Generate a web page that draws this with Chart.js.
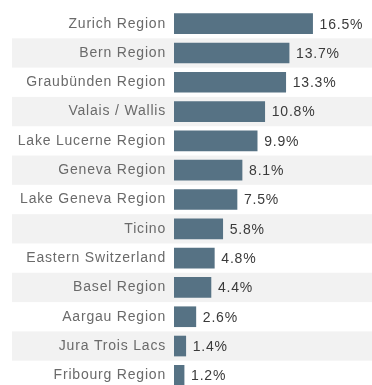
<!DOCTYPE html>
<html>
<head>
<meta charset="utf-8">
<script src="https://cdn.jsdelivr.net/npm/chart.js@4/dist/chart.umd.min.js"></script>
<style>
  html, body { margin: 0; padding: 0; background: #fff; overflow: hidden; }
  .wrap { position: absolute; left: 0; top: 0; width: 372px; height: 390px; }
</style>
</head>
<body>
<div class="wrap"><canvas id="chart"></canvas></div>
<script>
const regions = [
  "Zurich Region",
  "Bern Region",
  "Graubünden Region",
  "Valais / Wallis",
  "Lake Lucerne Region",
  "Geneva Region",
  "Lake Geneva Region",
  "Ticino",
  "Eastern Switzerland",
  "Basel Region",
  "Aargau Region",
  "Jura Trois Lacs",
  "Fribourg Region",
];
const shares = [16.5, 13.7, 13.3, 10.8, 9.9, 8.1, 7.5, 5.8, 4.8, 4.4, 2.6, 1.4, 1.2];

const fontFamily = "'Liberation Sans', Arial, Helvetica, sans-serif";

// grey band behind every second row
const stripes = {
  id: "stripes",
  beforeDraw(chart) {
    const ctx = chart.ctx;
    ctx.letterSpacing = "0.8px";
    const y = chart.scales.y;
    const half = (y.getPixelForValue(1) - y.getPixelForValue(0)) / 2;
    ctx.save();
    ctx.fillStyle = "#f2f2f2";
    regions.forEach((r, i) => {
      if (i % 2 === 1) {
        const cy = y.getPixelForValue(i);
        ctx.fillRect(12, cy - half, chart.width - 12, half * 2);
      }
    });
    ctx.restore();
  },
};

// percent labels at the end of each bar
const valueLabels = {
  id: "valueLabels",
  afterDatasetsDraw(chart) {
    const ctx = chart.ctx;
    const meta = chart.getDatasetMeta(0);
    ctx.save();
    ctx.font = "14px " + fontFamily;
    ctx.fillStyle = "#3a3a3a";
    ctx.textAlign = "left";
    ctx.textBaseline = "middle";
    meta.data.forEach((bar, i) => {
      ctx.fillText(shares[i].toFixed(1) + "%", bar.x + 7, bar.y + 1);
    });
    ctx.restore();
  },
};

new Chart(document.getElementById("chart"), {
  type: "bar",
  data: {
    labels: regions,
    datasets: [
      {
        data: shares,
        backgroundColor: "#567284",
        barThickness: 20,
      },
    ],
  },
  options: {
    indexAxis: "y",
    responsive: true,
    maintainAspectRatio: false,
    animation: false,
    layout: { padding: { top: 9, bottom: 0, left: 0, right: 0 } },
    plugins: {
      legend: { display: false },
      tooltip: { enabled: false },
    },
    scales: {
      x: {
        display: false,
        min: 0,
        max: 23.57,
      },
      y: {
        offset: true,
        grid: { display: false, drawTicks: false },
        border: { display: false },
        ticks: {
          color: "#6a6a6a",
          padding: 8,
          font: { size: 14, family: fontFamily },
        },
        afterFit(scale) {
          scale.width = 174;
          scale.paddingTop = 0;
          scale.paddingBottom = 0;
        },
      },
    },
  },
  plugins: [stripes, valueLabels],
});
</script>
</body>
</html>
